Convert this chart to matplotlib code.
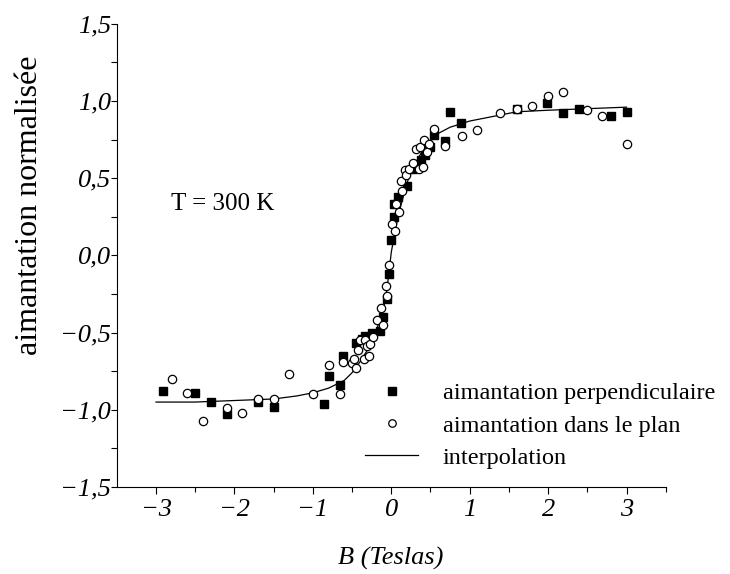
import matplotlib
matplotlib.use('Agg')
import matplotlib.pyplot as plt

plt.rcParams['font.family'] = ['Liberation Serif', 'DejaVu Serif']

# Valeurs (B en Teslas, aimantation normalisée)
perp_b = [-2.91, -2.50, -2.30, -2.10, -1.70, -1.50, -0.86, -0.80, -0.65, -0.61,
          -0.45, -0.37, -0.33, -0.25, -0.14, -0.10, -0.06, -0.03, 0.00, 0.04,
          0.03, 0.09, 0.20, 0.28, 0.38, 0.43, 0.50, 0.54, 0.69, 0.75,
          0.89, 1.60, 1.99, 2.19, 2.39, 2.80, 3.00]
perp_m = [-0.88, -0.89, -0.95, -1.03, -0.95, -0.98, -0.96, -0.78, -0.84, -0.65,
          -0.57, -0.54, -0.52, -0.50, -0.49, -0.40, -0.28, -0.12, 0.10, 0.25,
          0.33, 0.38, 0.45, 0.56, 0.62, 0.65, 0.70, 0.78, 0.74, 0.93,
          0.86, 0.95, 0.99, 0.92, 0.95, 0.90, 0.93]

plan_b = [-2.80, -2.61, -2.40, -2.10, -1.90, -1.70, -1.50, -1.30, -1.00, -0.80,
          -0.65, -0.61, -0.50, -0.48, -0.45, -0.42, -0.40, -0.35, -0.33, -0.31,
          -0.29, -0.27, -0.23, -0.18, -0.13, -0.11, -0.07, -0.06, -0.03, 0.01,
          0.05, 0.06, 0.10, 0.13, 0.14, 0.17, 0.19, 0.22, 0.28, 0.32,
          0.35, 0.37, 0.40, 0.42, 0.45, 0.48, 0.54, 0.69, 0.90, 1.09,
          1.39, 1.60, 1.80, 2.00, 2.19, 2.50, 2.69, 3.00]
plan_m = [-0.80, -0.89, -1.07, -0.99, -1.02, -0.93, -0.93, -0.77, -0.90, -0.71,
          -0.90, -0.69, -0.70, -0.67, -0.73, -0.61, -0.55, -0.67, -0.55, -0.59,
          -0.65, -0.575, -0.53, -0.42, -0.34, -0.45, -0.20, -0.26, -0.06, 0.20,
          0.16, 0.33, 0.28, 0.48, 0.42, 0.55, 0.52, 0.56, 0.60, 0.69,
          0.56, 0.70, 0.57, 0.75, 0.67, 0.72, 0.82, 0.71, 0.77, 0.81,
          0.92, 0.95, 0.97, 1.03, 1.06, 0.94, 0.90, 0.72]

interp_b = [-3.0, -2.5, -2.0, -1.5, -1.2, -1.0, -0.8, -0.6, -0.5, -0.4,
            -0.3, -0.2, -0.1, -0.05, 0.0, 0.05, 0.1, 0.2, 0.3, 0.4,
            0.5, 0.6, 0.75, 1.0, 1.4, 1.6, 2.0, 2.5, 3.0]
interp_m = [-0.95, -0.95, -0.94, -0.93, -0.91, -0.89, -0.86, -0.81, -0.76, -0.69,
            -0.61, -0.50, -0.35, -0.20, 0.02, 0.16, 0.28, 0.47, 0.59, 0.68,
            0.74, 0.79, 0.83, 0.87, 0.91, 0.93, 0.94, 0.95, 0.96]

x_ticks = [-3, -2, -1, 0, 1, 2, 3]
x_labels = ['−3', '−2', '−1', '0', '1', '2', '3']
y_ticks = [-1.5, -1.0, -0.5, 0.0, 0.5, 1.0, 1.5]
y_labels = ['−1,5', '−1,0', '−0,5', '0,0', '0,5', '1,0', '1,5']

fig = plt.figure(figsize=(7.3, 5.74), dpi=100)
ax = fig.add_axes([0.160, 0.1516, 0.752, 0.807])

line, = ax.plot(interp_b, interp_m, color='black', lw=0.9, zorder=1)
perp, = ax.plot(perp_b, perp_m, 's', color='black', ms=6, zorder=2)
plan, = ax.plot(plan_b, plan_m, 'o', mfc='white', mec='black', mew=0.9, ms=6, zorder=3)

ax.set_xlim(-3.5, 3.5)
ax.set_ylim(-1.5, 1.5)
ax.spines['top'].set_visible(False)
ax.spines['right'].set_visible(False)
ax.spines['left'].set_linewidth(0.8)
ax.spines['bottom'].set_linewidth(0.8)

ax.set_xticks(x_ticks)
ax.set_xticklabels(x_labels, fontsize=19, fontstyle='italic')
ax.set_xticks([-2.5, -1.5, -0.5, 0.5, 1.5, 2.5, 3.5], minor=True)
ax.set_yticks(y_ticks)
ax.set_yticklabels(y_labels, fontsize=19, fontstyle='italic')
ax.set_yticks([-1.25, -0.75, -0.25, 0.25, 0.75, 1.25], minor=True)
ax.tick_params(axis='x', which='major', direction='out', length=5, width=0.8, pad=4)
ax.tick_params(axis='x', which='minor', direction='out', length=3.5, width=0.8)
ax.tick_params(axis='y', which='major', direction='out', length=4, width=0.8, pad=0)
ax.tick_params(axis='y', which='minor', direction='out', length=4, width=0.8)

ax.text(0.0996, 0.611, 'T = 300 K', transform=ax.transAxes, fontsize=18,
        ha='left', va='center')

ax.legend([perp, plan, line],
          ['aimantation perpendiculaire', 'aimantation dans le plan', 'interpolation'],
          loc='upper left', bbox_to_anchor=(0.4517, 0.226), frameon=False,
          borderpad=0, borderaxespad=0, handlelength=2.2, handletextpad=1.0,
          labelspacing=0.42, fontsize=17.5, markerscale=0.9)

fig.text(30 / 730, 1 - 205 / 574, 'aimantation normalisée', rotation=90,
         fontsize=23, ha='center', va='center')
fig.text(390.5 / 730, 1 - 558 / 574, 'B (Teslas)', fontsize=19,
         fontstyle='italic', ha='center', va='center')

plt.savefig('out.png', dpi=100)
